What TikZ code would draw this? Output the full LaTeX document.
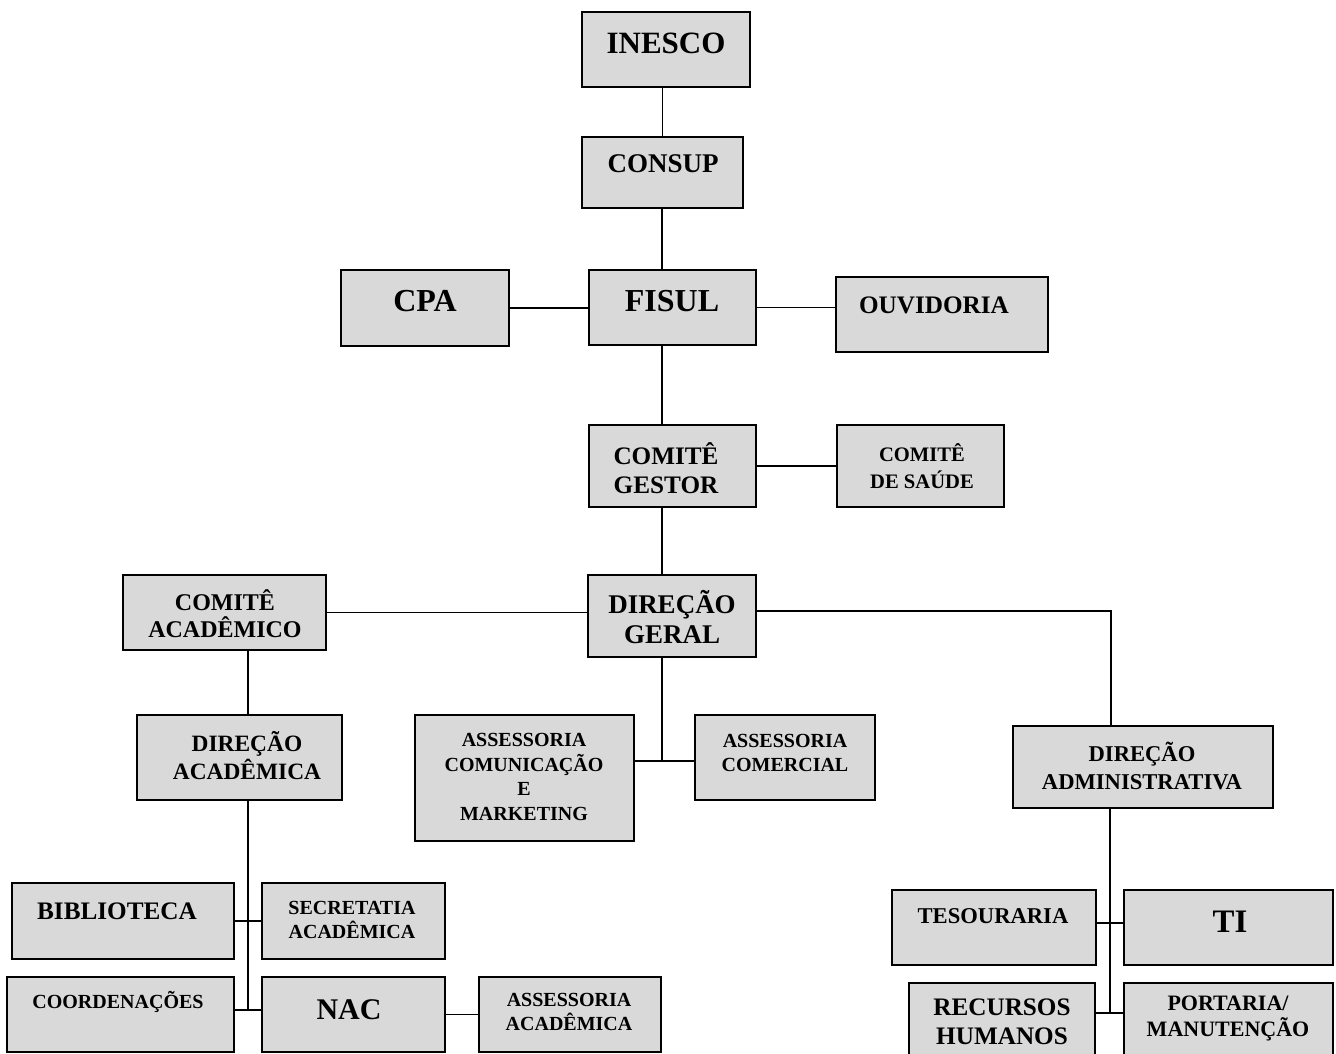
\documentclass[tikz,border=0pt]{standalone}
\usepackage{fontspec}
\setmainfont{Liberation Serif}
\definecolor{cinza}{HTML}{D9D9D9}
\newcommand{\tam}[2]{\fontsize{#1}{#2}\selectfont\bfseries}
\newcommand{\caixa}[5]{
    \node[caixa, minimum width={(#4-#2)*0.5pt}, minimum height={(#5-#3)*0.5pt}]
        (#1) at ({(#2+#4)/2},{(#3+#5)/2}) {};
}
\tikzset{
    caixa/.style={draw=black, fill=cinza, line width=1.1pt, inner sep=0pt, outer sep=0pt},
    rotulo/.style={align=center, inner sep=0pt},
    liga/.style={draw=black, line width=0.95pt}
}

\begin{document}
\begin{tikzpicture}[x=0.5pt, y=-0.5pt]
    \fill[white] (0,0) rectangle (1336,1053);
    \useasboundingbox (0,0) rectangle (1336,1053);

    % caixas
    \caixa{inesco}{582}{12}{750}{87}
    \caixa{consup}{582}{137}{743}{208}
    \caixa{cpa}{341}{270}{509}{346}
    \caixa{fisul}{589}{270}{756}{345}
    \caixa{ouvidoria}{836}{277}{1048}{352}
    \caixa{gestor}{589}{425}{756}{507}
    \caixa{saude}{837}{425}{1004}{507}
    \caixa{geral}{588}{575}{756}{657}
    \caixa{cacad}{123}{575}{326}{650}
    \caixa{dacad}{137}{715}{342}{800}
    \caixa{ascom}{415}{715}{634}{841}
    \caixa{ascomerc}{695}{715}{875}{800}
    \caixa{dadm}{1013}{726}{1273}{808}
    \caixa{biblio}{12}{883}{234}{959}
    \caixa{secret}{262}{883}{445}{959}
    \caixa{coord}{7}{977}{234}{1052}
    \caixa{nac}{262}{977}{445}{1052}
    \caixa{asacad}{479}{977}{661}{1052}
    \caixa{tesour}{892}{890}{1096}{965}
    \caixa{ti}{1124}{890}{1333}{965}
    \caixa{rh}{909}{983}{1095}{1070}
    \caixa{portaria}{1124}{983}{1333}{1070}

    % textos
    \node[rotulo, font=\tam{15.5}{17}] (tInesco) at (666,43) {INESCO};
    \node[rotulo, font=\tam{13.5}{15}] (tConsup) at (663,164) {CONSUP};
    \node[rotulo, font=\tam{16}{17}] (tCpa) at (425,301) {CPA};
    \node[rotulo, font=\tam{16}{17}] (tFisul) at (672,301) {FISUL};
    \node[rotulo, font=\tam{12.6}{14}] (tOuv) at (934,305) {OUVIDORIA};
    \node[rotulo, font=\tam{12.6}{14.5}] (tGestor) at (666,468) {COMITÊ\\GESTOR};
    \node[rotulo, font=\tam{10.3}{13.75}] (tSaude) at (922,466) {COMITÊ\\DE SAÚDE};
    \node[rotulo, font=\tam{13.5}{15}] (tGeral) at (672,617) {DIREÇÃO\\GERAL};
    \node[rotulo, font=\tam{12}{13.5}] (tCacad) at (225,614) {COMITÊ\\ACADÊMICO};
    \node[rotulo, font=\tam{11.7}{14}] (tDacad) at (247,756) {DIREÇÃO\\ACADÊMICA};
    \node[rotulo, font=\tam{10}{12.25}] (tAscom) at (524,777) {ASSESSORIA\\COMUNICAÇÃO\\E\\MARKETING};
    \node[rotulo, font=\tam{10}{12}] (tAscomerc) at (785,753) {ASSESSORIA\\COMERCIAL};
    \node[rotulo, font=\tam{11.3}{14}] (tDadm) at (1142,766) {DIREÇÃO\\ADMINISTRATIVA};
    \node[rotulo, font=\tam{12.6}{14}] (tBiblio) at (117,911) {BIBLIOTECA};
    \node[rotulo, font=\tam{10}{12}] (tSecret) at (352,920) {SECRETATIA\\ACADÊMICA};
    \node[rotulo, font=\tam{10}{12}] (tCoord) at (118,1002) {COORDENAÇÕES};
    \node[rotulo, font=\tam{15}{17}] (tNac) at (349,1010) {NAC};
    \node[rotulo, font=\tam{10}{12}] (tAsacad) at (569,1012) {ASSESSORIA\\ACADÊMICA};
    \node[rotulo, font=\tam{11.3}{13}] (tTesour) at (993,916) {TESOURARIA};
    \node[rotulo, font=\tam{16.4}{18}] (tTi) at (1230,922) {TI};
    \node[rotulo, font=\tam{12.6}{14.5}] (tRh) at (1002,1022) {RECURSOS\\HUMANOS};
    \node[rotulo, font=\tam{11}{13}] (tPortaria) at (1228,1018) {PORTARIA/\\MANUTENÇÃO};

    % eixos e juncoes
    \coordinate (eixo) at (662,0);
    \coordinate (eixoAc) at (248,0);
    \coordinate (jAdm) at (1111,611);
    \coordinate (jCom) at (662,761);
    \coordinate (jBib) at (248,921);
    \coordinate (jCoord) at (248,1010);
    \coordinate (jTes) at (1110,923);
    \coordinate (jRh) at (1110,1013);

    % ligacoes
    \draw[liga] (consup.north) -- (consup.north |- inesco.south);
    \draw[liga] (eixo |- consup.south) -- (eixo |- fisul.north);
    \draw[liga] (cpa.east) -- (cpa.east -| fisul.west);
    \draw[liga] (fisul.east) -- (fisul.east -| ouvidoria.west);
    \draw[liga] (eixo |- fisul.south) -- (eixo |- gestor.north);
    \draw[liga] (gestor.east) -- (gestor.east -| saude.west);
    \draw[liga] (eixo |- gestor.south) -- (eixo |- geral.north);
    \draw[liga] (cacad.east) -- (cacad.east -| geral.west);
    \draw[liga] (geral.east |- jAdm) -- (jAdm) -- (jAdm |- dadm.north);
    \draw[liga] (eixo |- geral.south) -- (jCom);
    \draw[liga] (ascom.east |- jCom) -- (ascomerc.west |- jCom);
    \draw[liga] (eixoAc |- cacad.south) -- (eixoAc |- dacad.north);
    \draw[liga] (eixoAc |- dacad.south) -- (jCoord);
    \draw[liga] (biblio.east |- jBib) -- (secret.west |- jBib);
    \draw[liga] (coord.east |- jCoord) -- (nac.west |- jCoord);
    \draw[liga] (nac.east) -- (nac.east -| asacad.west);
    \draw[liga] (jTes |- dadm.south) -- (jRh);
    \draw[liga] (tesour.east |- jTes) -- (ti.west |- jTes);
    \draw[liga] (rh.east |- jRh) -- (portaria.west |- jRh);
\end{tikzpicture}
\end{document}
